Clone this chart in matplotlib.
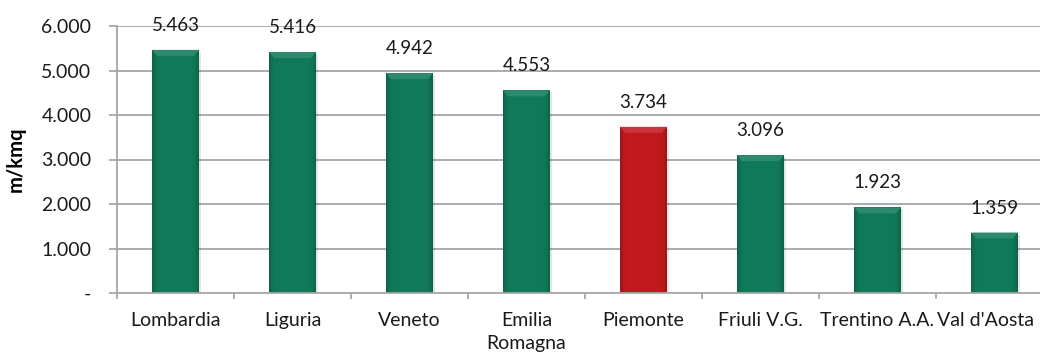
import numpy as np
import matplotlib
matplotlib.use("Agg")
import matplotlib.pyplot as plt
from matplotlib.colors import to_rgb
from matplotlib.patches import Polygon
from matplotlib.ticker import FixedLocator
from matplotlib.transforms import ScaledTranslation

regions = ["Lombardia", "Liguria", "Veneto", "Emilia\nRomagna", "Piemonte",
           "Friuli V.G.", "Trentino A.A.", "Val d'Aosta"]
values = [5463, 5416, 4942, 4553, 3734, 3096, 1923, 1359]
highlight = "Piemonte"
yticks = [0, 1000, 2000, 3000, 4000, 5000, 6000]

GREEN = "#117a5a"
RED = "#c21a1e"
FONT = ["Lato", "DejaVu Sans"]

plt.rcParams["font.family"] = FONT

fig = plt.figure(figsize=(10.4, 3.54), dpi=100)
ax = fig.add_axes([117 / 1040, 1 - 293 / 354, 936 / 1040, 267 / 354])

x = np.arange(len(regions))
width = 0.40
colors = [RED if r == highlight else GREEN for r in regions]

def shade(c, f):
    r = np.array(to_rgb(c))
    if f < 1:
        return tuple(r * f)
    return tuple(r + (1 - r) * (f - 1))

ax.set_xlim(-0.5, len(regions) - 0.5)
ax.set_ylim(0, 6000)

# gridlines
for t in yticks[1:]:
    ax.axhline(t, color="#a6a6a6", lw=1.3, zorder=0)

bars = ax.bar(x, values, width=width, color=colors, zorder=2, linewidth=0)

# pixels-to-data helpers for the bevel size
px_y = 6000 / 267.0
px_x = 1.0 / 117.0
for b, c in zip(bars, colors):
    x0, w, h = b.get_x(), b.get_width(), b.get_height()
    # soft shadow
    ax.add_patch(plt.Rectangle((x0 + 2 * px_x, -2 * px_y), w, h, color="#000000",
                               alpha=0.10, zorder=1, lw=0))
    # horizontal gradient: darker sides, brighter center
    base = np.array(to_rgb(c))
    n = 64
    t = np.linspace(-1, 1, n)
    prof = 0.80 + 0.20 * (1 - np.abs(t) ** 8)
    img = np.clip(base[None, None, :] * prof[None, :, None], 0, 1)
    im = ax.imshow(img, extent=(x0, x0 + w, 0, h), aspect="auto", zorder=2.1,
                   interpolation="bilinear")
    im.set_clip_path(b)
    # top bevel
    bv = 6 * px_y
    bx = 5 * px_x
    top = Polygon([(x0, h), (x0 + w, h), (x0 + w - bx, h - bv), (x0 + bx, h - bv)],
                  closed=True, color=shade(c, 1.12), lw=0, zorder=2.2)
    ax.add_patch(top)
    ax.text(x0 + w / 2, h + 19 * px_y, f"{h/1000:.3f}", ha="center", va="baseline",
            fontsize=13.5, color="#1a1a1a", zorder=3)

ax.yaxis.set_major_locator(FixedLocator(yticks))
ax.set_yticklabels(["-" if t == 0 else f"{t/1000:.3f}" for t in yticks],
                   fontsize=14, color="#1a1a1a")
ax.set_xticks(x)
ax.set_xticklabels(regions, fontsize=14, color="#1a1a1a", linespacing=1.4)
ax.xaxis.set_minor_locator(FixedLocator(np.arange(-0.5, len(regions), 1)))
ax.tick_params(axis="x", which="major", length=0, pad=14)
ax.tick_params(axis="x", which="minor", length=4, width=1.3, color="#a6a6a6")
ax.tick_params(axis="y", length=5.5, width=1.3, color="#a6a6a6", pad=13)

# keep the last category label inside the canvas
last = ax.get_xticklabels()[-1]
last.set_transform(last.get_transform() + ScaledTranslation(-0.09, 0, fig.dpi_scale_trans))

for s in ["top", "right"]:
    ax.spines[s].set_visible(False)
for s in ["left", "bottom"]:
    ax.spines[s].set_color("#a6a6a6")
    ax.spines[s].set_linewidth(1.3)

ax.set_ylabel("m/kmq", fontsize=14.5, fontweight="bold")
ax.yaxis.set_label_coords(-0.097, 0.5)

fig.savefig("out.png", dpi=100)
